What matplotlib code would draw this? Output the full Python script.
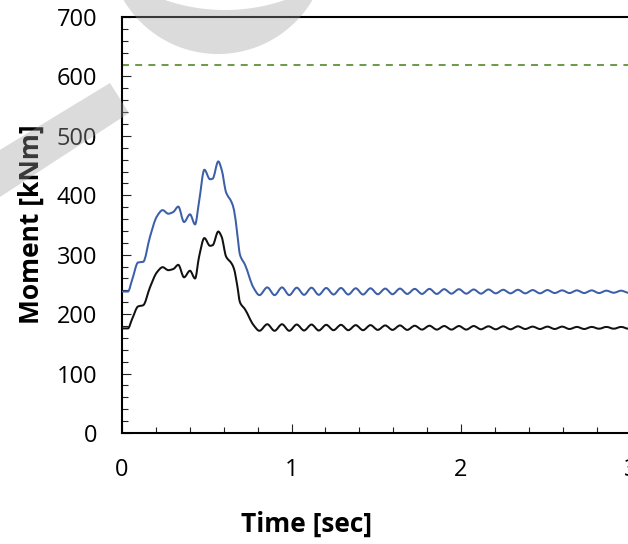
import numpy as np
import matplotlib
matplotlib.use("Agg")
import matplotlib.pyplot as plt
from matplotlib.patches import Polygon, PathPatch
from matplotlib.path import Path

# ---------------- data ----------------
time_rise = [0.000, 0.035, 0.060, 0.095, 0.125, 0.165, 0.205, 0.240, 0.273, 0.303,
             0.332, 0.366, 0.401, 0.431, 0.455, 0.486, 0.519, 0.535, 0.568, 0.588,
             0.614, 0.647, 0.661, 0.680, 0.696, 0.726, 0.775, 0.811]
blue_rise = [238, 238, 258, 287, 288, 330, 364, 375, 369, 372,
             381, 355, 368, 351, 390, 443, 427, 428, 457, 443,
             405, 388, 375, 335, 300, 283, 245, 232]
black_rise = [176, 176, 192, 213, 215, 245, 270, 279, 274, 276,
              283, 262, 273, 260, 297, 328, 315, 316, 339, 330,
              297, 285, 276, 248, 220, 208, 182, 172]

time_tail = [0.857, 0.900, 0.944, 0.987, 1.031, 1.074, 1.118, 1.161, 1.205, 1.248,
             1.292, 1.335, 1.379, 1.422, 1.466, 1.509, 1.553, 1.596, 1.640, 1.683,
             1.727, 1.770, 1.814, 1.857, 1.901, 1.944, 1.988, 2.031, 2.075, 2.118,
             2.162, 2.205, 2.249, 2.292, 2.336, 2.379, 2.423, 2.466, 2.510, 2.553,
             2.597, 2.640, 2.684, 2.727, 2.771, 2.814, 2.858, 2.901, 2.945, 2.988,
             3.000]
blue_tail = [245, 232, 245, 232, 244.5, 232.5, 244.5, 232.5, 244, 233,
             244, 233, 243.5, 233, 243.5, 233.5, 243, 233.5, 243, 234,
             242.5, 234, 242.5, 234, 242, 234.5, 242, 234.5, 241.5, 234.5,
             241.5, 235, 241, 235, 241, 235, 240.5, 235, 240.5, 235.5,
             240, 235.5, 240, 235.5, 240, 235.5, 239.5, 236, 239.5, 236,
             237.5]
black_tail = [183, 172, 183, 172, 182.5, 172.5, 182.5, 172.5, 182, 173,
              182, 173, 181.5, 173, 181.5, 173.5, 181, 173.5, 181, 173.5,
              180.5, 174, 180.5, 174, 180, 174, 180, 174, 180, 174.5,
              179.5, 174.5, 179.5, 174.5, 179.5, 175, 179, 175, 179, 175,
              179, 175, 178.5, 175, 178.5, 175.5, 178.5, 175.5, 178.5, 175.5,
              177]

limit_value = 620

x_ticks = [0, 1, 2, 3]
x_ticklabels = ["0", "1", "2", "3"]
y_ticks = [0, 100, 200, 300, 400, 500, 600, 700]
y_ticklabels = ["0", "100", "200", "300", "400", "500", "600", "700"]

# ---------------- figure ----------------
W, H = 628, 544
plt.rcParams['font.family'] = ['Open Sans', 'DejaVu Sans']
plt.rcParams['lines.scale_dashes'] = False
fig = plt.figure(figsize=(W / 100, H / 100), dpi=100)

def px(x, y):
    return (x / W, 1 - y / H)

ax_l, ax_r, ax_t, ax_b = 122, 630.5, 17, 433
ax = fig.add_axes([ax_l / W, 1 - ax_b / H, (ax_r - ax_l) / W, (ax_b - ax_t) / H])


def smooth_curve(x, y, color, lw):
    """Draw a smooth (monotone cubic Bezier) line through the data points."""
    x = np.asarray(x, float)
    y = np.asarray(y, float)
    n = len(x)
    h = np.diff(x)
    d = np.diff(y) / h
    m = np.zeros(n)
    m[0], m[-1] = d[0], d[-1]
    for i in range(1, n - 1):
        if d[i - 1] * d[i] <= 0:
            m[i] = 0.0
        else:
            w1 = 2 * h[i] + h[i - 1]
            w2 = h[i] + 2 * h[i - 1]
            m[i] = (w1 + w2) / (w1 / d[i - 1] + w2 / d[i])
    verts = [(x[0], y[0])]
    codes = [Path.MOVETO]
    for i in range(n - 1):
        verts += [(x[i] + h[i] / 3, y[i] + m[i] * h[i] / 3),
                  (x[i + 1] - h[i] / 3, y[i + 1] - m[i + 1] * h[i] / 3),
                  (x[i + 1], y[i + 1])]
        codes += [Path.CURVE4] * 3
    patch = PathPatch(Path(verts, codes), facecolor='none', edgecolor=color,
                      lw=lw, capstyle='round', joinstyle='round', zorder=3,
                      transform=ax.transData)
    ax.add_patch(patch)


t_all = time_rise + time_tail
smooth_curve(t_all, blue_rise + blue_tail, '#3c5fa8', 1.45)
smooth_curve(t_all, black_rise + black_tail, '#111111', 1.45)
ax.axhline(limit_value, color='#6b9a47', lw=1.4, dashes=(5, 4.5), zorder=2)

ax.set_xlim(0, 3)
ax.set_ylim(0, 700)
ax.set_xticks(x_ticks)
ax.set_xticklabels(x_ticklabels)
ax.set_yticks(y_ticks)
ax.set_yticklabels(y_ticklabels)
ax.set_xticks(np.arange(0, 3.01, 0.2), minor=True)
ax.set_yticks(np.arange(0, 701, 20), minor=True)

for s in ['left', 'bottom', 'top', 'right']:
    ax.spines[s].set_linewidth(1.5)
    ax.spines[s].set_color('black')

ax.tick_params(which='both', direction='in', top=False, right=False, width=0.8, color='#222222')
ax.tick_params(which='major', length=6.5, labelsize=17, pad=18, labelcolor='black')
ax.tick_params(which='minor', length=4.5)

fig.text(*px(31, 224), "Moment [kNm]", rotation=90, ha='center', va='center',
         fontsize=19, fontweight='bold')
fig.text(*px(307, 524), "Time [sec]", ha='center', va='center',
         fontsize=19, fontweight='bold')

# ---------------- watermark overlay ----------------
wm_kw = dict(closed=True, facecolor=(0.62, 0.62, 0.62), alpha=0.37, edgecolor='none',
             transform=fig.transFigure, zorder=100)
stripe = [(110, 83), (129, 113), (-20, 210), (-20, 162)]
fig.add_artist(Polygon([px(x, y) for x, y in stripe], **wm_kw))

co_x, co_y, co_r = 218, -55.6, 109.6
ci_x, ci_y, ci_r = 225, -175, 185
a0 = np.arcsin(np.clip((0 - co_y) / co_r, -1, 1))
ang_o = np.linspace(np.pi - a0, a0, 80)
outer = [(co_x + co_r * np.cos(a), co_y + co_r * np.sin(a)) for a in ang_o]
a1 = np.arcsin(np.clip((0 - ci_y) / ci_r, -1, 1))
ang_i = np.linspace(a1, np.pi - a1, 80)
inner = [(ci_x + ci_r * np.cos(a), ci_y + ci_r * np.sin(a)) for a in ang_i]
arc = outer + inner
fig.add_artist(Polygon([px(x, y) for x, y in arc], **wm_kw))

fig.savefig("out.png", dpi=100)
